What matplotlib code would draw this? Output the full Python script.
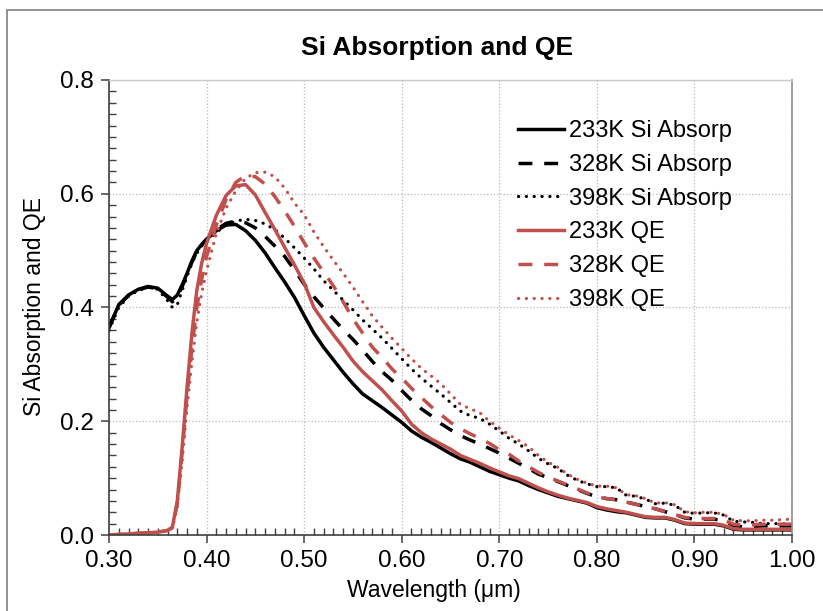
import matplotlib
matplotlib.use("Agg")
import matplotlib.pyplot as plt
from matplotlib.ticker import MultipleLocator, FormatStrFormatter
from matplotlib.patches import Rectangle

plt.rcParams['font.family'] = ['Liberation Sans', 'DejaVu Sans']

wavelength = [0.30, 0.31, 0.32, 0.33, 0.34, 0.35, 0.36, 0.365, 0.37, 0.375,
              0.38, 0.385, 0.39, 0.395, 0.40, 0.41, 0.42, 0.43, 0.44, 0.45,
              0.46, 0.47, 0.48, 0.49, 0.50, 0.51, 0.52, 0.53, 0.54, 0.55,
              0.56, 0.57, 0.58, 0.59, 0.60, 0.61, 0.62, 0.63, 0.64, 0.65,
              0.66, 0.67, 0.68, 0.69, 0.70, 0.71, 0.72, 0.73, 0.74, 0.75,
              0.76, 0.77, 0.78, 0.79, 0.80, 0.81, 0.82, 0.83, 0.84, 0.85,
              0.86, 0.87, 0.88, 0.89, 0.90, 0.91, 0.92, 0.93, 0.94, 0.95,
              0.96, 0.97, 0.98, 0.99, 1.00]

abs_233K = [0.365, 0.405, 0.422, 0.432, 0.437, 0.434, 0.420, 0.414, 0.422, 0.440,
            0.460, 0.482, 0.500, 0.511, 0.520, 0.535, 0.545, 0.546, 0.535, 0.518,
            0.496, 0.470, 0.445, 0.418, 0.386, 0.355, 0.330, 0.308, 0.286, 0.266,
            0.248, 0.236, 0.224, 0.211, 0.198, 0.183, 0.172, 0.163, 0.153, 0.143,
            0.134, 0.128, 0.120, 0.112, 0.106, 0.100, 0.095, 0.087, 0.080, 0.074,
            0.068, 0.064, 0.060, 0.056, 0.048, 0.044, 0.041, 0.039, 0.035, 0.031,
            0.030, 0.030, 0.026, 0.020, 0.019, 0.019, 0.019, 0.016, 0.010, 0.009,
            0.009, 0.009, 0.009, 0.009, 0.009]

abs_328K = [0.364, 0.404, 0.421, 0.431, 0.436, 0.433, 0.418, 0.410, 0.418, 0.437,
            0.458, 0.480, 0.498, 0.510, 0.520, 0.537, 0.548, 0.552, 0.549, 0.540,
            0.525, 0.508, 0.490, 0.466, 0.441, 0.419, 0.399, 0.380, 0.361, 0.344,
            0.325, 0.305, 0.287, 0.272, 0.254, 0.237, 0.222, 0.210, 0.196, 0.185,
            0.175, 0.167, 0.160, 0.152, 0.144, 0.135, 0.126, 0.117, 0.107, 0.101,
            0.094, 0.087, 0.080, 0.073, 0.067, 0.064, 0.062, 0.058, 0.054, 0.050,
            0.046, 0.041, 0.036, 0.030, 0.028, 0.028, 0.028, 0.025, 0.017, 0.014,
            0.015, 0.016, 0.016, 0.016, 0.016]

abs_398K = [0.360, 0.400, 0.420, 0.430, 0.436, 0.432, 0.412, 0.400, 0.405, 0.430,
            0.455, 0.478, 0.495, 0.508, 0.516, 0.532, 0.545, 0.552, 0.555, 0.553,
            0.547, 0.537, 0.522, 0.505, 0.487, 0.468, 0.447, 0.430, 0.413, 0.396,
            0.378, 0.362, 0.346, 0.328, 0.310, 0.292, 0.276, 0.262, 0.248, 0.233,
            0.218, 0.210, 0.205, 0.195, 0.183, 0.170, 0.160, 0.148, 0.135, 0.125,
            0.117, 0.105, 0.096, 0.090, 0.085, 0.085, 0.083, 0.070, 0.068, 0.063,
            0.055, 0.056, 0.052, 0.040, 0.038, 0.039, 0.039, 0.035, 0.024, 0.023,
            0.022, 0.020, 0.020, 0.020, 0.017]

qe_233K = [0.000, 0.001, 0.002, 0.003, 0.004, 0.005, 0.008, 0.014, 0.060, 0.155,
           0.260, 0.355, 0.430, 0.478, 0.513, 0.562, 0.597, 0.614, 0.616, 0.598,
           0.567, 0.537, 0.506, 0.475, 0.443, 0.400, 0.375, 0.352, 0.330, 0.306,
           0.287, 0.271, 0.255, 0.236, 0.218, 0.195, 0.180, 0.169, 0.160, 0.151,
           0.140, 0.133, 0.126, 0.118, 0.111, 0.104, 0.099, 0.091, 0.083, 0.076,
           0.070, 0.065, 0.061, 0.057, 0.050, 0.046, 0.043, 0.040, 0.036, 0.032,
           0.031, 0.031, 0.027, 0.021, 0.020, 0.020, 0.020, 0.017, 0.011, 0.010,
           0.010, 0.010, 0.010, 0.010, 0.010]

qe_328K = [0.000, 0.001, 0.002, 0.003, 0.004, 0.005, 0.008, 0.013, 0.055, 0.145,
           0.245, 0.330, 0.400, 0.450, 0.490, 0.545, 0.590, 0.620, 0.632, 0.630,
           0.617, 0.595, 0.570, 0.543, 0.514, 0.487, 0.462, 0.438, 0.410, 0.380,
           0.355, 0.330, 0.312, 0.292, 0.276, 0.258, 0.242, 0.226, 0.212, 0.198,
           0.187, 0.178, 0.170, 0.161, 0.150, 0.142, 0.130, 0.120, 0.110, 0.102,
           0.095, 0.088, 0.081, 0.074, 0.067, 0.064, 0.062, 0.058, 0.054, 0.050,
           0.046, 0.041, 0.036, 0.031, 0.029, 0.029, 0.029, 0.026, 0.019, 0.017,
           0.018, 0.019, 0.019, 0.019, 0.019]

qe_398K = [0.000, 0.001, 0.002, 0.003, 0.004, 0.005, 0.008, 0.012, 0.050, 0.130,
           0.225, 0.305, 0.375, 0.425, 0.465, 0.530, 0.575, 0.605, 0.627, 0.637,
           0.638, 0.630, 0.610, 0.584, 0.563, 0.533, 0.507, 0.483, 0.460, 0.436,
           0.410, 0.385, 0.365, 0.346, 0.328, 0.310, 0.293, 0.280, 0.266, 0.248,
           0.230, 0.222, 0.215, 0.200, 0.188, 0.176, 0.166, 0.155, 0.140, 0.128,
           0.119, 0.107, 0.098, 0.091, 0.086, 0.086, 0.083, 0.071, 0.069, 0.064,
           0.056, 0.057, 0.053, 0.041, 0.039, 0.040, 0.040, 0.036, 0.026, 0.025,
           0.025, 0.026, 0.026, 0.027, 0.028]

labels = ["233K Si Absorp", "328K Si Absorp", "398K Si Absorp",
          "233K QE", "328K QE", "398K QE"]

BLACK = "#000000"
RED = "#C0504D"

fig = plt.figure(figsize=(8.23, 6.11), dpi=100)
ax = fig.add_axes([109/823, 1-535/611, (792-109)/823, (535-80)/611])

dash = (0, (4.0, 3.4))
dot = (0, (0.05, 2.4))

series = [
    (abs_233K, BLACK, '-', 2.5),
    (abs_328K, BLACK, dash, 2.5),
    (abs_398K, BLACK, dot, 2.3),
    (qe_233K, RED, '-', 2.5),
    (qe_328K, RED, dash, 2.5),
    (qe_398K, RED, dot, 2.3),
]
for (vals, col, ls, lw), lab in zip(series, labels):
    ax.plot(wavelength, vals, color=col, linestyle=ls, linewidth=lw,
            dash_capstyle='round' if ls is dot else 'butt', label=lab,
            solid_joinstyle='round')

ax.set_xlim(0.30, 1.00)
ax.set_ylim(0.0, 0.8)
ax.xaxis.set_major_locator(MultipleLocator(0.1))
ax.xaxis.set_minor_locator(MultipleLocator(0.01))
ax.yaxis.set_major_locator(MultipleLocator(0.2))
ax.yaxis.set_minor_locator(MultipleLocator(0.02))
ax.xaxis.set_major_formatter(FormatStrFormatter('%.2f'))
ax.yaxis.set_major_formatter(FormatStrFormatter('%.1f'))

ax.grid(True, which='major', color='#b8b8b8', linestyle=':', linewidth=0.9)
ax.set_axisbelow(True)

ax.tick_params(which='major', direction='out', length=6, width=1.1,
               labelsize=17.5, colors='#404040', labelcolor='black', pad=5)
ax.tick_params(which='minor', direction='in', length=5, width=1.0, colors='#404040')

ax.spines['top'].set_color('#c8c8c8')
ax.spines['top'].set_linewidth(1.0)
ax.spines['right'].set_color('#8c8c8c')
ax.spines['right'].set_linewidth(1.2)
ax.spines['left'].set_color('#404040')
ax.spines['bottom'].set_color('#404040')
ax.spines['left'].set_linewidth(1.2)
ax.spines['bottom'].set_linewidth(1.2)

leg = ax.legend(loc='upper left', bbox_to_anchor=((518-109)/683, (535-120)/455),
                frameon=False, fontsize=17, handlelength=1.95, handletextpad=0.2,
                labelspacing=0.5, borderaxespad=0, borderpad=0)

fig.text(437/823, 1-48/611, "Si Absorption and QE", ha='center', va='center',
         fontsize=19, fontweight='bold')
fig.text(434/823, 1-590/611, "Wavelength (\u03bcm)", ha='center', va='center',
         fontsize=16.5)
fig.text(35/823, 1-307/611, "Si Absorption and QE", ha='center', va='center',
         fontsize=16.5, rotation=90)

fig.patches.append(Rectangle((7/823, -0.05), 1.1, 1-10/611+0.05,
                             transform=fig.transFigure, fill=False,
                             edgecolor='#7f7f7f', linewidth=1.2))

fig.savefig("out.png", dpi=100)
